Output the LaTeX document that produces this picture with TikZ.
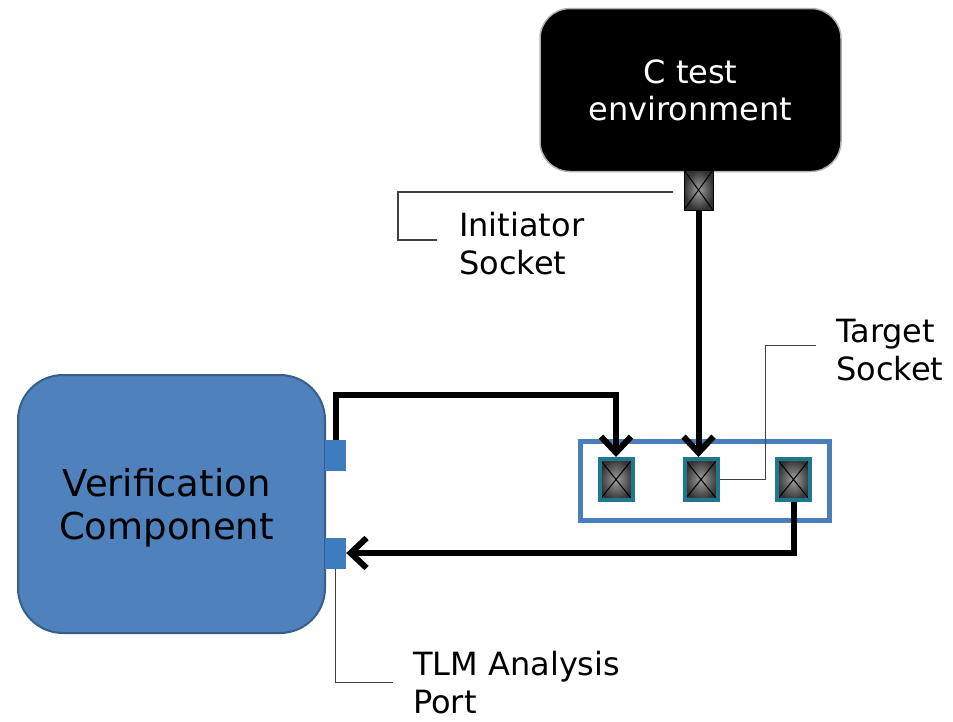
\documentclass[tikz,border=0pt]{standalone}
\usepackage{fontspec}
\setmainfont{DejaVu Sans}
\usetikzlibrary{arrows.meta,calc}

\definecolor{vcblue}{RGB}{79,129,189}
\definecolor{vcedge}{RGB}{56,93,138}
\definecolor{portblue}{RGB}{63,124,191}
\definecolor{boxblue}{RGB}{74,126,187}
\definecolor{sockteal}{RGB}{31,120,140}
\definecolor{leadgray}{RGB}{64,64,64}

\tikzset{
  lbl/.style={font=\fontsize{32}{38}\selectfont, align=left, inner sep=0pt, anchor=north west},
  ctest/.style={rounded corners=30pt, fill=black, draw=gray!60, line width=1.5pt,
    minimum width=301pt, minimum height=163pt, text=white, align=center,
    font=\fontsize{32}{37}\selectfont},
  vcomp/.style={rounded corners=45pt, fill=vcblue, draw=vcedge, line width=2pt,
    minimum width=307pt, minimum height=258pt, align=center,
    font=\fontsize{37}{43}\selectfont},
  port/.style={fill=portblue, inner sep=0pt, minimum width=21pt, minimum height=31pt},
  tbox/.style={draw=boxblue, line width=5pt, minimum width=249pt, minimum height=79pt},
  sockx/.style={path picture={
      \draw[black, line width=1pt] (path picture bounding box.south west) -- (path picture bounding box.north east)
        (path picture bounding box.north west) -- (path picture bounding box.south east);}},
  isock/.style={sockx, shading=radial, inner color=gray!75, outer color=black!80,
    draw=black, line width=1pt, inner sep=0pt, minimum width=29pt, minimum height=40pt},
  tsock/.style={sockx, shading=radial, inner color=gray!75, outer color=black!80,
    draw=sockteal, line width=4pt, inner sep=0pt, minimum width=33pt, minimum height=41pt},
  flow/.style={line width=6pt, -{Straight Barb[length=16pt,width=30pt]}},
  lead/.style={leadgray, line width=1.3pt}
}

\begin{document}
\begin{tikzpicture}[x=1pt,y=-1pt]
  \useasboundingbox (0,0) rectangle (953,721);

  % blocks
  \node[ctest] (cenv) at (690.5,90) {C test\\environment};
  \node[vcomp, text depth=0pt] (vc) at (171.5,504) {\hspace*{-10pt}Verification\\\hspace*{-10pt}Component};
  \node[port] (p1) at (335.5,455.5) {};
  \node[port] (p2) at (335.5,553) {};
  \node[tbox] (tb) at (704.5,480.5) {};

  % sockets
  \node[isock] (isock) at (698.5,190) {};
  \node[tsock] (s1) at (616,479.5) {};
  \node[tsock] (s2) at (701,479.5) {};
  \node[tsock] (s3) at (793.5,479.5) {};

  % transactions
  \draw[flow] (p1.north) -- ++(0,-45) -| (s1.north);
  \draw[flow] (isock.south) -- (isock.south |- s2.north);
  \draw[flow, line cap=butt] (s3.south) |- (p2.east);

  % callouts
  \coordinate (ia) at (673,192);
  \draw[lead] (ia) -- ++(-275,0) -- ++(0,48) -- ++(39,0);
  \node[lbl] (ilbl) at (459,212) {Initiator\\Socket};

  \draw[lead] (s2.east) -- ++(46,0) -- ++(0,-134) -- ++(50,0);
  \node[lbl] (tlbl) at (836,319) {Target\\Socket};

  \draw[lead] (p2.south) -- ++(0,114) -- ++(57,0);
  \node[lbl] (albl) at (413,651) {TLM Analysis\\Port};
\end{tikzpicture}
\end{document}
